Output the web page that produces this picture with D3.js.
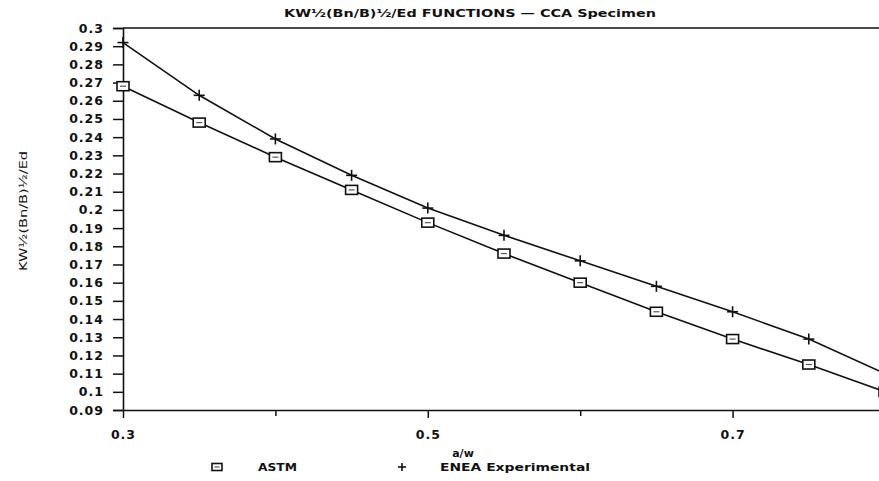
<!DOCTYPE html>
<html><head><meta charset="utf-8">
<script src="https://cdn.jsdelivr.net/npm/d3@7"></script>
<style>
html,body{margin:0;padding:0;background:#fff;}
svg{display:block;}
text{font-family:"DejaVu Sans",Verdana,sans-serif;font-weight:bold;fill:#111;}
</style></head>
<body><svg id="c" width="879" height="481"></svg>
<script>
const xValues = [0.3,0.35,0.4,0.45,0.5,0.55,0.6,0.65,0.7,0.75,0.8];
const astm = [0.268,0.248,0.229,0.211,0.193,0.176,0.160,0.144,0.129,0.115,0.100];
const enea = [0.292,0.263,0.239,0.219,0.201,0.186,0.172,0.158,0.144,0.129,0.110];
const yTicks = [0.3,0.29,0.28,0.27,0.26,0.25,0.24,0.23,0.22,0.21,0.2,0.19,0.18,0.17,0.16,0.15,0.14,0.13,0.12,0.11,0.1,0.09];
const yTickLabels = ["0.3","0.29","0.28","0.27","0.26","0.25","0.24","0.23","0.22","0.21","0.2","0.19","0.18","0.17","0.16","0.15","0.14","0.13","0.12","0.11","0.1","0.09"];
const xTicks = [0.3,0.4,0.5,0.6,0.7,0.8];
const xTickLabels = ["0.3","","0.5","","0.7",""];
const title = "KW½(Bn/B)½/Ed FUNCTIONS — CCA Specimen";
const yLabel = "KW½(Bn/B)½/Ed";
const xLabel = "a/w";
const seriesNames = ["ASTM","ENEA Experimental"];

const svg = d3.select("#c");
const x = d3.scaleLinear().domain([0.3,0.8]).range([123,885]);
const y = d3.scaleLinear().domain([0.09,0.3]).range([410,28]);

// frame top
svg.append("line").attr("x1",123).attr("x2",879).attr("y1",y(0.3)).attr("y2",y(0.3))
  .attr("stroke","#111").attr("stroke-width",1.6);

// y axis
const ya = svg.append("g").attr("transform","translate(123,0)")
  .call(d3.axisLeft(y).tickValues(yTicks).tickSize(10).tickPadding(9)
    .tickFormat((d,i)=>yTickLabels[i]));
ya.select(".domain").attr("stroke","#111").attr("stroke-width",1.6);
ya.selectAll(".tick line").attr("stroke","#111").attr("stroke-width",1.5);
ya.selectAll(".tick text").style("font-size","12.5px").style("letter-spacing","1px")
  .style("font-family","'DejaVu Sans',sans-serif").attr("font-weight","bold");

// x axis
const xa = svg.append("g").attr("transform","translate(0,410)")
  .call(d3.axisBottom(x).tickValues(xTicks).tickSizeOuter(0).tickPadding(14)
    .tickFormat((d,i)=>xTickLabels[i]));
xa.select(".domain").attr("stroke","#111").attr("stroke-width",1.6);
xa.selectAll(".tick line").attr("stroke","#111").attr("stroke-width",1.5)
  .attr("y2",(d,i)=>xTickLabels[i]?8:6);
xa.selectAll(".tick text").style("font-size","12.5px").style("letter-spacing","1px")
  .style("font-family","'DejaVu Sans',sans-serif").attr("font-weight","bold");

// lines
const line = d3.line().x(d=>x(d[0])).y(d=>y(d[1]));
const astmPts = xValues.map((v,i)=>[v,astm[i]]);
const eneaPts = xValues.map((v,i)=>[v,enea[i]]);
[astmPts,eneaPts].forEach(p=>{
  svg.append("path").datum(p).attr("d",line).attr("fill","none")
    .attr("stroke","#111").attr("stroke-width",1.6);
});

// markers
function square(g,cx,cy,w,h){
  g.append("rect").attr("x",cx-w/2).attr("y",cy-h/2).attr("width",w).attr("height",h)
    .attr("fill","#fff").attr("stroke","#111").attr("stroke-width",1.6);
  g.append("line").attr("x1",cx-w/4).attr("x2",cx+w/4).attr("y1",cy).attr("y2",cy)
    .attr("stroke","#555").attr("stroke-width",1.2);
}
function plus(g,cx,cy,s){
  g.append("line").attr("x1",cx-s/2).attr("x2",cx+s/2).attr("y1",cy).attr("y2",cy)
    .attr("stroke","#111").attr("stroke-width",1.6);
  g.append("line").attr("x1",cx).attr("x2",cx).attr("y1",cy-s/2).attr("y2",cy+s/2)
    .attr("stroke","#111").attr("stroke-width",1.6);
}
const mg = svg.append("g");
astmPts.forEach(d=>square(mg,x(d[0]),y(d[1]),12,9));
eneaPts.forEach(d=>plus(mg,x(d[0]),y(d[1]),11));

// title
svg.append("text").attr("x",470).attr("y",17).attr("text-anchor","middle")
  .style("font-size","11px").attr("textLength",372).attr("lengthAdjust","spacingAndGlyphs")
  .text(title);

// y label
svg.append("text").attr("transform","translate(27,211) rotate(-90)").attr("text-anchor","middle")
  .style("font-size","11px").style("font-weight","normal")
  .attr("textLength",120).attr("lengthAdjust","spacingAndGlyphs").text(yLabel);

// x label
svg.append("text").attr("x",463).attr("y",457).attr("text-anchor","middle")
  .style("font-size","11px").text(xLabel);

// legend
square(svg,217,467,10,7);
svg.append("text").attr("x",258).attr("y",471).style("font-size","11px")
  .attr("textLength",39).attr("lengthAdjust","spacingAndGlyphs").text(seriesNames[0]);
plus(svg,402,467,8);
svg.append("text").attr("x",440).attr("y",471).style("font-size","11px")
  .attr("textLength",150).attr("lengthAdjust","spacingAndGlyphs").text(seriesNames[1]);
</script></body></html>
